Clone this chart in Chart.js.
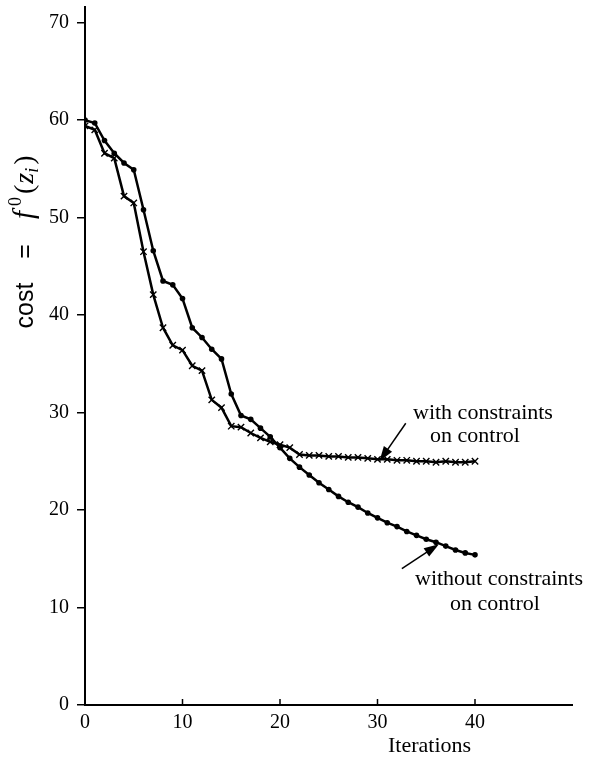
<!DOCTYPE html>
<html>
<head>
<meta charset="utf-8">
<script src="https://cdn.jsdelivr.net/npm/chart.js@4.4.1/dist/chart.umd.min.js"></script>
<style>
html,body{margin:0;padding:0;background:#fff;}
#wrap{width:595px;height:765px;position:relative;}
</style>
</head>
<body>
<div id="wrap"><canvas id="c" width="595" height="765"></canvas></div>
<script>
const iterations = [0,1,2,3,4,5,6,7,8,9,10,11,12,13,14,15,16,17,18,19,20,21,22,23,24,25,26,27,28,29,30,31,32,33,34,35,36,37,38,39,40];
const withoutConstraints = [60.0,59.7,57.9,56.6,55.6,54.9,50.8,46.6,43.5,43.1,41.7,38.7,37.7,36.5,35.5,31.9,29.7,29.3,28.4,27.5,26.4,25.3,24.4,23.6,22.8,22.1,21.4,20.8,20.3,19.7,19.2,18.7,18.3,17.8,17.4,17.0,16.7,16.3,15.9,15.6,15.4];
const withConstraints = [59.4,59.0,56.6,56.1,52.2,51.5,46.5,42.1,38.7,36.9,36.4,34.8,34.3,31.3,30.5,28.6,28.5,27.9,27.4,27.0,26.7,26.4,25.7,25.6,25.6,25.5,25.5,25.4,25.4,25.3,25.2,25.2,25.1,25.1,25.0,25.0,24.9,25.0,24.9,24.9,25.0];
const xTicks = [0,10,20,30,40];
const yTicks = [0,10,20,30,40,50,60,70];

const toPts = (vals) => iterations.map((x,i)=>({x:x, y:vals[i]}));

function arrow(ctx, x1, y1, x2, y2) {
  const ang = Math.atan2(y2-y1, x2-x1);
  const L = 15, W = 5;
  ctx.beginPath();
  ctx.moveTo(x1,y1);
  ctx.lineTo(x2 - L*0.6*Math.cos(ang), y2 - L*0.6*Math.sin(ang));
  ctx.lineWidth = 1.5;
  ctx.strokeStyle = '#000';
  ctx.stroke();
  ctx.beginPath();
  ctx.moveTo(x2,y2);
  ctx.lineTo(x2 - L*Math.cos(ang) + W*Math.sin(ang), y2 - L*Math.sin(ang) - W*Math.cos(ang));
  ctx.lineTo(x2 - L*Math.cos(ang) - W*Math.sin(ang), y2 - L*Math.sin(ang) + W*Math.cos(ang));
  ctx.closePath();
  ctx.fillStyle = '#000';
  ctx.fill();
}

const decor = {
  id: 'decor',
  afterDraw(chart) {
    const ctx = chart.ctx;
    const xs = chart.scales.x, ys = chart.scales.y;
    const px = v => xs.getPixelForValue(v), py = v => ys.getPixelForValue(v);
    ctx.save();
    // inward x ticks
    ctx.strokeStyle = '#000';
    ctx.lineWidth = 1.5;
    xTicks.forEach(t => {
      if (t === 0) return;
      ctx.beginPath();
      ctx.moveTo(px(t), py(0));
      ctx.lineTo(px(t), py(0) - 6);
      ctx.stroke();
    });
    // arrows
    arrow(ctx, px(32.9), py(28.9), px(30.2), py(25.0));
    arrow(ctx, px(32.5), py(14.0), px(36.3), py(16.5));
    // annotation texts
    ctx.fillStyle = '#000';
    ctx.font = '22px "Liberation Serif", "Times New Roman", serif';
    ctx.textAlign = 'left';
    ctx.textBaseline = 'alphabetic';
    ctx.fillText('with constraints', 413, 419);
    ctx.fillText('on control', 430, 442);
    ctx.fillText('without constraints', 415, 585);
    ctx.fillText('on control', 450, 610);
    // x title
    ctx.fillText('Iterations', 388, 752);
    // y title (rotated)
    ctx.translate(33, 242);
    ctx.rotate(-Math.PI/2);
    const parts = [
      {t:'cost', f:'25px "Liberation Sans", Arial, sans-serif', dy:0, gap:24},
      {t:'=', f:'25px "Liberation Sans", Arial, sans-serif', dy:0, gap:25},
      {t:'f', f:'italic 29px "Liberation Serif", serif', dy:0, gap:5},
      {t:'0', f:'18px "Liberation Serif", serif', dy:-12, gap:3},
      {t:'(', f:'28px "Liberation Serif", serif', dy:0, gap:1},
      {t:'z', f:'italic 28px "Liberation Serif", serif', dy:0, gap:0},
      {t:'i', f:'italic 18px "Liberation Serif", serif', dy:5, gap:3},
      {t:')', f:'28px "Liberation Serif", serif', dy:0, gap:0}
    ];
    let total = 0;
    parts.forEach((p,i) => { ctx.font = p.f; p.w = ctx.measureText(p.t).width; total += p.w + (i < parts.length-1 ? p.gap : 0); });
    let x = -total/2;
    parts.forEach(p => { ctx.font = p.f; ctx.fillText(p.t, x, p.dy); x += p.w + p.gap; });
    ctx.restore();
  }
};

new Chart(document.getElementById('c'), {
  type: 'line',
  data: {
    datasets: [
      {
        label: 'without constraints on control',
        data: toPts(withoutConstraints),
        borderColor: '#000',
        backgroundColor: '#000',
        borderWidth: 2.5,
        pointRadius: 2.8,
        pointStyle: 'circle',
        pointBorderWidth: 0,
        tension: 0
      },
      {
        label: 'with constraints on control',
        data: toPts(withConstraints),
        borderColor: '#000',
        backgroundColor: '#000',
        borderWidth: 2.5,
        pointRadius: 4.5,
        pointStyle: 'crossRot',
        pointBorderWidth: 1.4,
        tension: 0
      }
    ]
  },
  options: {
    responsive: false,
    animation: false,
    devicePixelRatio: 1,
    layout: { padding: { top: 7, right: 22.5, left: 0, bottom: 0 } },
    plugins: { legend: { display: false }, tooltip: { enabled: false } },
    scales: {
      x: {
        type: 'linear',
        min: 0, max: 50,
        afterBuildTicks: s => { s.ticks = xTicks.map(v => ({value: v})); },
        afterFit: s => { s.height = 60; s.paddingLeft = 0; s.paddingRight = 0; },
        grid: { display: false, drawTicks: false },
        border: { display: true, color: '#000', width: 2 },
        ticks: { color: '#000', padding: 8, maxRotation: 0, font: { family: '"Liberation Serif", serif', size: 20, lineHeight: 1 } }
      },
      y: {
        type: 'linear',
        min: 0, max: 71.6,
        afterBuildTicks: s => { s.ticks = yTicks.map(v => ({value: v})); },
        afterFit: s => { s.width = 85; s.paddingTop = 0; s.paddingBottom = 0; },
        grid: { drawOnChartArea: false, drawTicks: true, tickLength: 8, color: '#000', lineWidth: 1.5 },
        border: { display: true, color: '#000', width: 2 },
        ticks: { color: '#000', padding: 8, font: { family: '"Liberation Serif", serif', size: 20, lineHeight: 1 } }
      }
    }
  },
  plugins: [decor]
});
</script>
</body>
</html>
